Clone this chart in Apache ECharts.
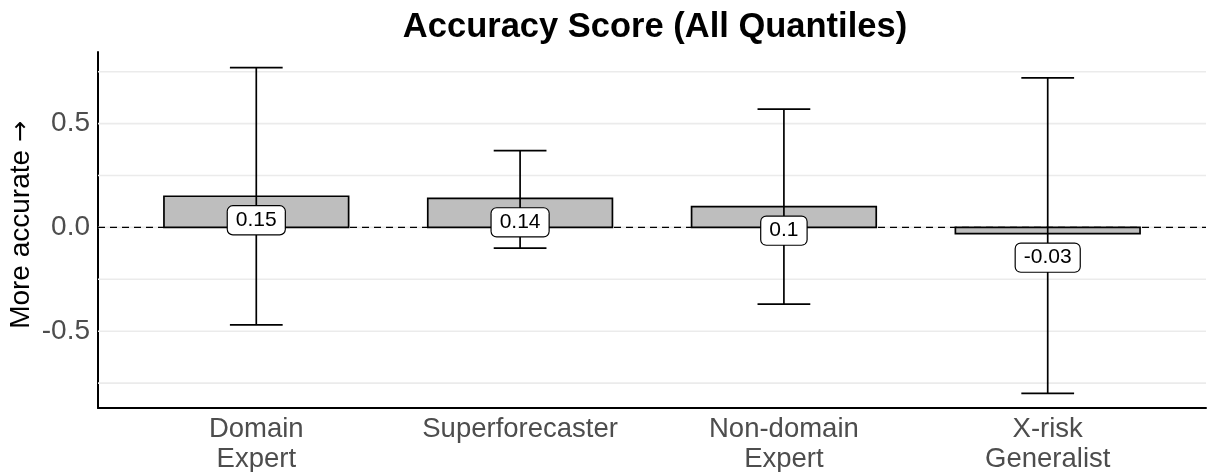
<!DOCTYPE html>
<html>
<head>
<meta charset="utf-8">
<script src="https://cdn.jsdelivr.net/npm/echarts@6/dist/echarts.min.js"></script>
<style>
  html, body { margin: 0; padding: 0; background: #ffffff; }
  #chart { width: 1209px; height: 472px; }
</style>
</head>
<body>
<div id="chart"></div>
<script>
// Group names, shown on the x axis
const categories = ['Domain\nExpert', 'Superforecaster', 'Non-domain\nExpert', 'X-risk\nGeneralist'];
// Mean accuracy score per group
const scores = [0.15, 0.14, 0.1, -0.03];
// Interval bounds per group
const lowerBounds = [-0.47, -0.10, -0.37, -0.80];
const upperBounds = [0.77, 0.37, 0.57, 0.72];
// Y axis tick labels and grid lines
const yTicks = [-0.5, 0, 0.5];
const yGrid = [-0.75, -0.5, -0.25, 0, 0.25, 0.5, 0.75];
const zeroLine = [0];

const FONT = '"Liberation Sans", Arial, Helvetica, sans-serif';

const rows = categories.map((c, i) => [i + 1, scores[i], lowerBounds[i], upperBounds[i]]);

// horizontal line across the whole plotting panel at a y value
function hLine(style) {
  return function (params, api) {
    const cs = params.coordSys;
    const y = api.coord([1, api.value(0)])[1];
    return { type: 'line', shape: { x1: cs.x, y1: y, x2: cs.x + cs.width, y2: y }, style: style };
  };
}

const chart = echarts.init(document.getElementById('chart'), null, { renderer: 'canvas' });

chart.setOption({
  animation: false,
  backgroundColor: '#ffffff',
  title: {
    text: 'Accuracy Score (All Quantiles)',
    left: 650,
    top: 5,
    textAlign: 'center',
    textStyle: { fontFamily: FONT, fontSize: 34.5, fontWeight: 'bold', color: '#000000' }
  },
  grid: { left: 98, right: 3, top: 52, bottom: 64, containLabel: false, outerBoundsMode: 'none' },
  xAxis: {
    type: 'value',
    min: 0.4,
    max: 4.6,
    axisLine: { show: true, onZero: false, lineStyle: { color: '#000000', width: 2 } },
    axisTick: { show: false },
    splitLine: { show: false },
    axisLabel: {
      customValues: [1, 2, 3, 4],
      formatter: v => categories[Math.round(v) - 1] || '',
      fontFamily: FONT,
      fontSize: 27.5,
      lineHeight: 30,
      color: '#4d4d4d',
      margin: 6,
      verticalAlign: 'top'
    }
  },
  yAxis: {
    type: 'value',
    min: -0.87,
    max: 0.845,
    name: '{t|More accurate }{a|\u2192}',
    nameLocation: 'middle',
    nameRotate: 90,
    nameGap: 63,
    nameMoveOverlap: false,
    nameTextStyle: {
      fontFamily: FONT, fontSize: 28, color: '#000000',
      padding: [0, 0, 0, 10],
      rich: {
        t: { fontFamily: FONT, fontSize: 28, color: '#000000' },
        a: { fontFamily: '"DejaVu Sans", sans-serif', fontSize: 25, color: '#000000' }
      }
    },
    axisLine: { show: true, onZero: false, lineStyle: { color: '#000000', width: 2 } },
    axisTick: { show: false },
    splitLine: { show: false },
    axisLabel: {
      customValues: yTicks,
      formatter: v => v.toFixed(1),
      fontFamily: FONT,
      fontSize: 28,
      color: '#4d4d4d',
      margin: 8
    }
  },
  series: [
    {
      // light panel grid
      type: 'custom',
      z: 1,
      silent: true,
      data: yGrid.map(v => [v]),
      encode: { y: 0 },
      renderItem: hLine({ stroke: '#ebebeb', lineWidth: 1.6 })
    },
    {
      // dashed zero reference line
      type: 'custom',
      z: 2,
      silent: true,
      data: zeroLine.map(v => [v]),
      encode: { y: 0 },
      renderItem: hLine({ stroke: '#000000', lineWidth: 1.3, lineDash: [7, 5] })
    },
    {
      // bars, interval whiskers and value labels
      type: 'custom',
      z: 3,
      data: rows,
      encode: { x: 0, y: [1, 2, 3] },
      renderItem: function (params, api) {
        const x = api.value(0);
        const v = api.value(1);
        const lo = api.value(2);
        const hi = api.value(3);
        const barW = api.size([0.7, 0])[0];
        const capW = api.size([0.2, 0])[0];
        const pTop = api.coord([x, v]);
        const pZero = api.coord([x, 0]);
        const pLo = api.coord([x, lo]);
        const pHi = api.coord([x, hi]);
        const cx = pTop[0];
        const y0 = Math.min(pTop[1], pZero[1]);
        const h = Math.abs(pTop[1] - pZero[1]);
        const line = { stroke: '#000000', lineWidth: 1.7 };
        return {
          type: 'group',
          children: [
            { type: 'rect', shape: { x: cx - barW / 2, y: y0, width: barW, height: h },
              style: { fill: '#bebebe', stroke: '#000000', lineWidth: 1.7 } },
            { type: 'line', shape: { x1: cx, y1: pLo[1], x2: cx, y2: pHi[1] }, style: line },
            { type: 'line', shape: { x1: cx - capW / 2, y1: pHi[1], x2: cx + capW / 2, y2: pHi[1] }, style: line },
            { type: 'line', shape: { x1: cx - capW / 2, y1: pLo[1], x2: cx + capW / 2, y2: pLo[1] }, style: line },
            { type: 'text', x: cx, y: pTop[1] + 24,
              style: {
                text: String(v),
                fontFamily: FONT,
                fontSize: 21,
                lineHeight: 21,
                fill: '#000000',
                align: 'center',
                verticalAlign: 'middle',
                backgroundColor: '#ffffff',
                borderColor: '#000000',
                borderWidth: 1.2,
                borderRadius: 5,
                padding: [4, 8, 3, 8]
              } }
          ]
        };
      }
    }
  ]
});
</script>
</body>
</html>
